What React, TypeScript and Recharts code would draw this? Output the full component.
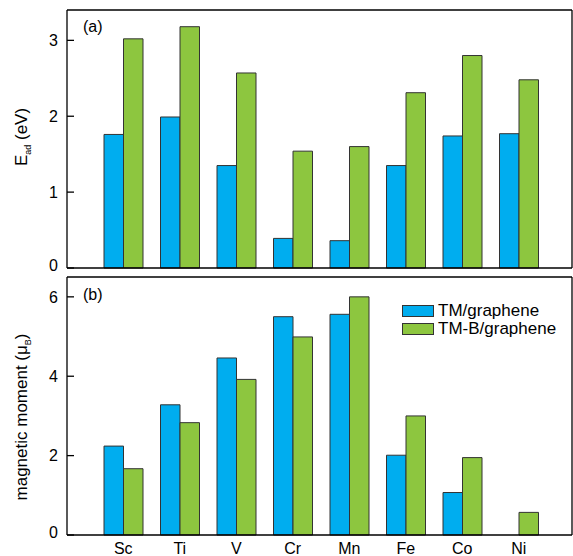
import React from 'react';
import { BarChart, Bar, XAxis, YAxis, Legend, Label } from 'recharts';

const ELEMENTS = ['Sc', 'Ti', 'V', 'Cr', 'Mn', 'Fe', 'Co', 'Ni'];
const SERIES = ['TM/graphene', 'TM-B/graphene'];
const EAD_TM = [1.76, 1.99, 1.35, 0.39, 0.36, 1.35, 1.74, 1.77];
const EAD_TMB = [3.02, 3.18, 2.57, 1.54, 1.6, 2.31, 2.8, 2.48];
const MOM_TM = [2.24, 3.28, 4.46, 5.5, 5.56, 2.01, 1.07, 0];
const MOM_TMB = [1.67, 2.83, 3.92, 4.99, 6.0, 3.0, 1.95, 0.57];
const EAD_TICKS = [0, 1, 2, 3];
const MOM_TICKS = [0, 2, 4, 6];

const ead = ELEMENTS.map((name, i) => ({ name, tm: EAD_TM[i], tmb: EAD_TMB[i] }));
const mom = ELEMENTS.map((name, i) => ({ name, tm: MOM_TM[i], tmb: MOM_TMB[i] }));

const BLUE = '#00adef';
const GREEN = '#8dc63f';
const EDGE = '#333';
const AXIS = { stroke: '#000', strokeWidth: 1.3 };
const PAD = { left: 28, right: 25 };

function LeftTick(props: any) {
  const { x, y, payload } = props;
  // zero label sits a little above the axis line in the original
  const lift = payload.value === 0 ? -3 : 0;
  return (
    <g>
      <line x1={x} x2={x + 7} y1={y} y2={y} stroke="#000" strokeWidth={1.3} />
      <text x={x - 9} y={y + lift} dy="0.36em" textAnchor="end" fontSize={16} fill="#000">
        {payload.value}
      </text>
    </g>
  );
}

function RightTick(props: any) {
  const { x, y } = props;
  return <line x1={x - 7} x2={x} y1={y} y2={y} stroke="#000" strokeWidth={1.3} />;
}

function EadTitle(props: any) {
  const { viewBox } = props;
  const cx = 27;
  const cy = viewBox.y + viewBox.height / 2 - 2;
  return (
    <text x={cx} y={cy} transform={`rotate(-90 ${cx} ${cy})`} textAnchor="middle" fontSize={17} fill="#000">
      E<tspan fontSize={9} dy={4}>ad</tspan>
      <tspan dy={-4}>{' (eV)'}</tspan>
    </text>
  );
}

function MomTitle(props: any) {
  const { viewBox } = props;
  const cx = 27;
  const cy = viewBox.y + viewBox.height / 2 + 11;
  return (
    <text x={cx} y={cy} transform={`rotate(-90 ${cx} ${cy})`} textAnchor="middle" fontSize={17} fill="#000">
      {'magnetic moment (\u03bc'}
      <tspan fontSize={9} dy={4}>B</tspan>
      <tspan dy={-4}>)</tspan>
    </text>
  );
}

function PanelTag(text: string, dy: number) {
  return (props: any) => {
    const { viewBox } = props;
    return (
      <text x={viewBox.x + 16} y={viewBox.y + dy} fontSize={16} fill="#000">
        {text}
      </text>
    );
  };
}

function LegendBox(props: any) {
  const items = [...(props.payload || [])].sort(
    (a: any, b: any) => SERIES.indexOf(a.value) - SERIES.indexOf(b.value),
  );
  return (
    <div style={{ fontSize: 17, color: '#000' }}>
      {items.map((it: any) => (
        <div key={it.value} style={{ display: 'flex', alignItems: 'center', height: 18 }}>
          <span
            style={{
              display: 'inline-block',
              width: 30,
              height: 10,
              background: it.color,
              border: `1px solid ${EDGE}`,
              marginRight: 4,
            }}
          />
          <span>{it.value}</span>
        </div>
      ))}
    </div>
  );
}

export default function App() {
  return (
    <div
      style={{
        position: 'absolute',
        left: 0,
        top: 0,
        width: 573,
        height: 556,
        background: '#fff',
        fontFamily: '"Liberation Sans", Arial, sans-serif',
      }}
    >
      <BarChart width={573} height={276} data={ead} margin={{ top: 9, right: 0, left: 0, bottom: 4 }} barGap={0}>
        <XAxis dataKey="name" height={4} tick={false} tickLine={false} axisLine={AXIS} padding={PAD} />
        <XAxis xAxisId="top" dataKey="name" orientation="top" height={1} tick={false} tickLine={false} axisLine={AXIS} padding={PAD} />
        <YAxis
          width={67}
          domain={[0, 3.4]}
          ticks={EAD_TICKS}
          interval={0}
          tickSize={0}
          tickMargin={0}
          tickLine={false}
          axisLine={AXIS}
          tick={<LeftTick />}
        >
          <Label content={<EadTitle />} />
        </YAxis>
        <YAxis
          yAxisId="r"
          orientation="right"
          width={1}
          domain={[0, 3.4]}
          ticks={EAD_TICKS}
          interval={0}
          tickSize={0}
          tickMargin={0}
          tickLine={false}
          axisLine={AXIS}
          tick={<RightTick />}
        />
        <Bar dataKey="tm" name={SERIES[0]} fill={BLUE} stroke={EDGE} strokeWidth={1} barSize={19.5} isAnimationActive={false}>
          <Label content={PanelTag('(a)', 22)} />
        </Bar>
        <Bar dataKey="tmb" name={SERIES[1]} fill={GREEN} stroke={EDGE} strokeWidth={1} barSize={19.5} isAnimationActive={false} />
      </BarChart>
      <BarChart width={573} height={280} data={mom} margin={{ top: 0, right: 0, left: 0, bottom: 0 }} barGap={0}>
        <XAxis
          dataKey="name"
          height={21}
          tickSize={0}
          tickMargin={8}
          tickLine={false}
          axisLine={AXIS}
          padding={PAD}
          tick={{ fill: '#000', fontSize: 16 }}
          interval={0}
        />
        <XAxis xAxisId="top" dataKey="name" orientation="top" height={1} tick={false} tickLine={false} axisLine={AXIS} padding={PAD} />
        <YAxis
          width={67}
          domain={[0, 6.5]}
          ticks={MOM_TICKS}
          interval={0}
          tickSize={0}
          tickMargin={0}
          tickLine={false}
          axisLine={AXIS}
          tick={<LeftTick />}
        >
          <Label content={<MomTitle />} />
        </YAxis>
        <YAxis
          yAxisId="r"
          orientation="right"
          width={1}
          domain={[0, 6.5]}
          ticks={MOM_TICKS}
          interval={0}
          tickSize={0}
          tickMargin={0}
          tickLine={false}
          axisLine={AXIS}
          tick={<RightTick />}
        />
        <Legend
          layout="vertical"
          align="center"
          verticalAlign="middle"
          content={<LegendBox />}
          wrapperStyle={{ left: 402, top: 26, width: 170, height: 40 }}
        />
        <Bar dataKey="tm" name={SERIES[0]} fill={BLUE} stroke={EDGE} strokeWidth={1} barSize={19.5} isAnimationActive={false}>
          <Label content={PanelTag('(b)', 23)} />
        </Bar>
        <Bar dataKey="tmb" name={SERIES[1]} fill={GREEN} stroke={EDGE} strokeWidth={1} barSize={19.5} isAnimationActive={false} />
      </BarChart>
    </div>
  );
}
